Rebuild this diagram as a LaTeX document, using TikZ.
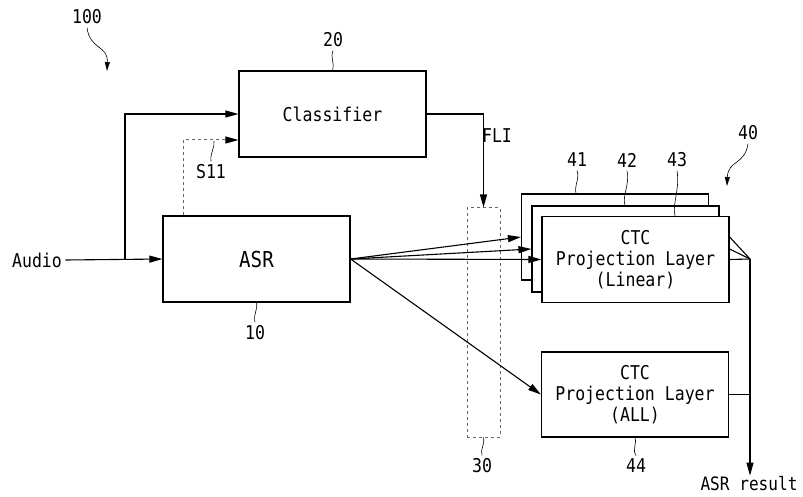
\documentclass[tikz,border=0pt]{standalone}
\usepackage{fontspec}
\setmainfont[FakeStretch=0.87]{DejaVu Sans Mono}
\usetikzlibrary{arrows.meta,positioning}

\begin{document}
\begin{tikzpicture}[x=1pt,y=-1pt, >={Triangle[length=13pt,width=7pt]},
        font=\fontsize{19}{21}\selectfont,
        block/.style={draw,line width=1.2pt,fill=white,align=center,minimum width=187pt,minimum height=86pt,inner sep=0pt},
        wire/.style={line width=1.1pt},
        sig/.style={line width=1pt,dashed,draw=black!60},
        lead/.style={line width=0.6pt}]
        \useasboundingbox (0,0) rectangle (803,497);

        % blocks
        \node[block]    (cls)  at (332.5,114)   {Classifier};
        \node[block,font=\fontsize{22}{24}\selectfont]    (asr)  at (256.5,259)   {ASR};
        \node[block]    (b41)  at (615,237)     {};
        \node[block]    (b42)  at (625.5,249)   {};
        \node[block]    (b43)  at (635.5,259.5) {CTC\\Projection Layer\\(Linear)};
        \node[block,minimum height=85pt]    (b44)  at (635,394.5)   {CTC\\Projection Layer\\(ALL)};
        \node[sig,minimum width=33pt,minimum height=229pt,inner sep=0pt] (b30) at (483.5,322.5) {};

        % texts
        \node (audio) at (37,260)  {Audio};
        \node (fli)   at (497,136) {FLI};
        \node (s11)   at (211,172) {S11};
        \node[inner sep=0pt,font=\fontsize{18.5}{20}\selectfont] (res) at (749,484) {ASR result};
        \node (n100)  at (87,17)   {100};
        \node (n20)   at (333,40)  {20};
        \node (n10)   at (255,333) {10};
        \node (n30)   at (482,466) {30};
        \node (n40)   at (748,133) {40};
        \node (n41)   at (577,160) {41};
        \node (n42)   at (627,160) {42};
        \node (n43)   at (677,160) {43};
        \node (n44)   at (636,466) {44};

        \coordinate (br)   at (125,259);
        \coordinate (join) at (750,259);

        % connectors
        \draw[wire,->] (audio.east) -- (asr.west);
        \draw[wire,->] (br) |- (cls.west);
        \draw[sig,-{Triangle[length=13pt,width=7pt,fill=black,color=black]}]  ([xshift=21pt]asr.north west) |- ([yshift=-26pt]cls.west);
        \draw[wire,->] (cls.east) -| (b30.north);
        \draw[wire,->] (asr.east) -- (b41.west);
        \draw[wire,->] (asr.east) -- (b42.west);
        \draw[wire,->] (asr.east) -- (b43.west);
        \draw[wire,->] (asr.east) -- (b44.west);
        \draw[wire]    (b41.east -| b43.east) -- (join);
        \draw[wire]    (b42.east -| b43.east) -- (join);
        \draw[wire]    (b43.east) -- (join);
        \draw[wire]    (b44.east) -- (b44.east -| join);
        \draw[wire,->] (join) -- ([yshift=1pt]join |- res.north);

        % leaders
        \draw[lead] (n20.south) .. controls (330,58) and (335,63) .. (cls.north);
        \draw[lead] (asr.south) .. controls (258,310) and (253,314) .. (n10.north);
        \draw[lead] (s11.north) .. controls (210,152) and (215,148) .. (214,141);
        \draw[lead] (b30.south) .. controls (485,445) and (480,449) .. (n30.north);
        \draw[lead] (b44.south) .. controls (637,445) and (632,449) .. (n44.north);
        \draw[lead] (n41.south) .. controls (580,178) and (574,186) .. (b41.north -| 576,0);
        \draw[lead] (n42.south) .. controls (630,184) and (622,196) .. (b42.north -| 625,0);
        \draw[lead] (n43.south) .. controls (680,190) and (672,204) .. (b43.north -| 675,0);
        \draw[lead,->,>={Triangle[length=9pt,width=5pt]}] (n40.south) .. controls (745,165) and (728,160) .. (727,186);
        \draw[lead,->,>={Triangle[length=9pt,width=5pt]}] (n100.south) .. controls (90,50) and (108,45) .. (107,71);
\end{tikzpicture}
\end{document}
